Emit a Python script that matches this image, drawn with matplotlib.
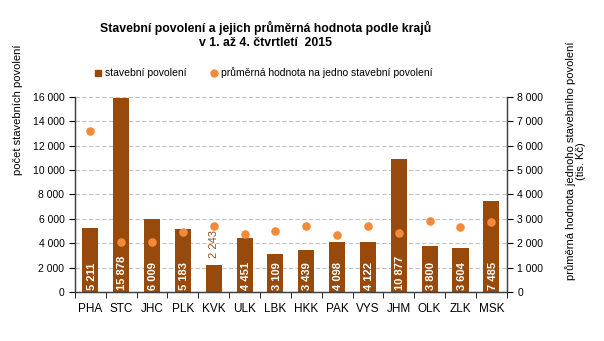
"""Stavebni povoleni podle kraju - sloupce + body na vedlejsi ose."""
import matplotlib.pyplot as plt
from matplotlib.lines import Line2D
from matplotlib.ticker import FuncFormatter

plt.switch_backend("agg")
plt.rcParams["font.family"] = ["Liberation Sans", "DejaVu Sans"]

kraje = ["PHA", "STC", "JHC", "PLK", "KVK", "ULK", "LBK", "HKK",
         "PAK", "VYS", "JHM", "OLK", "ZLK", "MSK"]
pocet = [5211, 15878, 6009, 5183, 2243, 4451, 3109, 3439,
         4098, 4122, 10877, 3800, 3604, 7485]
hodnota = [6600, 2050, 2050, 2460, 2710, 2380, 2500, 2700,
           2340, 2700, 2420, 2910, 2670, 2870]

bar_col = "#974A0C"
dot_col = "#F28A3A"


def fmt(v, pos=None):
    return f"{int(v):,}".replace(",", " ")


fig = plt.figure(figsize=(6.04, 3.41), dpi=100)
ax = fig.add_axes([0.124, 0.144, 0.715, 0.572])
ax2 = ax.twinx()

x = range(len(kraje))
ax.bar(x, pocet, width=0.52, color=bar_col, zorder=2)
ax2.scatter(x, hodnota, s=38, color=dot_col, zorder=3, linewidths=0)

for i, v in enumerate(pocet):
    if v > 3000:
        ax.text(i + 0.04, 150, fmt(v), rotation=90, ha="center", va="bottom",
                color="white", fontsize=8, fontweight="bold", zorder=4)
    else:
        ax.text(i, v + 550, fmt(v), rotation=90, ha="center", va="bottom",
                color="#9C4A1A", fontsize=8, zorder=4)

ax.set_xlim(-0.5, len(kraje) - 0.5)
ax.set_ylim(0, 16000)
ax.set_yticks(range(0, 16001, 2000))
ax2.set_ylim(0, 8000)
ax2.set_yticks(range(0, 8001, 1000))
ax.yaxis.set_major_formatter(FuncFormatter(fmt))
ax2.yaxis.set_major_formatter(FuncFormatter(fmt))
ax.grid(axis="y", linestyle=(0, (4, 2)), color="#C4C4C4", linewidth=0.8, zorder=0)
ax.set_axisbelow(True)

ax.set_xticks(list(x))
ax.set_xticklabels(kraje, fontsize=8.5)
ax.set_xticks([i + 0.5 for i in range(-1, len(kraje))], minor=True)
ax.tick_params(axis="x", which="major", length=0, pad=8)
ax.tick_params(axis="x", which="minor", length=4, direction="out")
ax.tick_params(axis="y", labelsize=7.5, length=4, direction="out")
ax2.tick_params(axis="y", labelsize=7.5, length=4, direction="out")

for a in (ax, ax2):
    a.spines["top"].set_visible(False)
    for s in ("left", "right", "bottom"):
        a.spines[s].set_color("#404040")
        a.spines[s].set_linewidth(0.9)

fig.text(0.44, 0.898, "Stavební povolení a jejich průměrná hodnota podle krajů\n"
         "v 1. až 4. čtvrtletí  2015", ha="center", va="center",
         fontsize=8.8, fontweight="bold", linespacing=1.2)

fig.text(0.029, 1 - 110 / 341, "počet stavebních povolení", rotation=90,
         ha="center", va="center", fontsize=8)
fig.text(0.953, 1 - 161 / 341,
         "průměrná hodnota jednoho stavebního povolení\n(tis. Kč)",
         rotation=90, ha="center", va="center", fontsize=8, linespacing=1.0)

handles = [
    Line2D([], [], marker="s", linestyle="none", color=bar_col, markersize=5),
    Line2D([], [], marker="o", linestyle="none", color=dot_col, markersize=5),
]
fig.legend(handles, ["stavební povolení", "průměrná hodnota na jedno stavební povolení"],
           loc="center", bbox_to_anchor=(0.435, 1 - 73 / 341), ncol=2,
           frameon=False, fontsize=7.5, handletextpad=0.1, columnspacing=2.2,
           handlelength=1)

fig.savefig("out.png", dpi=100)
plt.close(fig)
